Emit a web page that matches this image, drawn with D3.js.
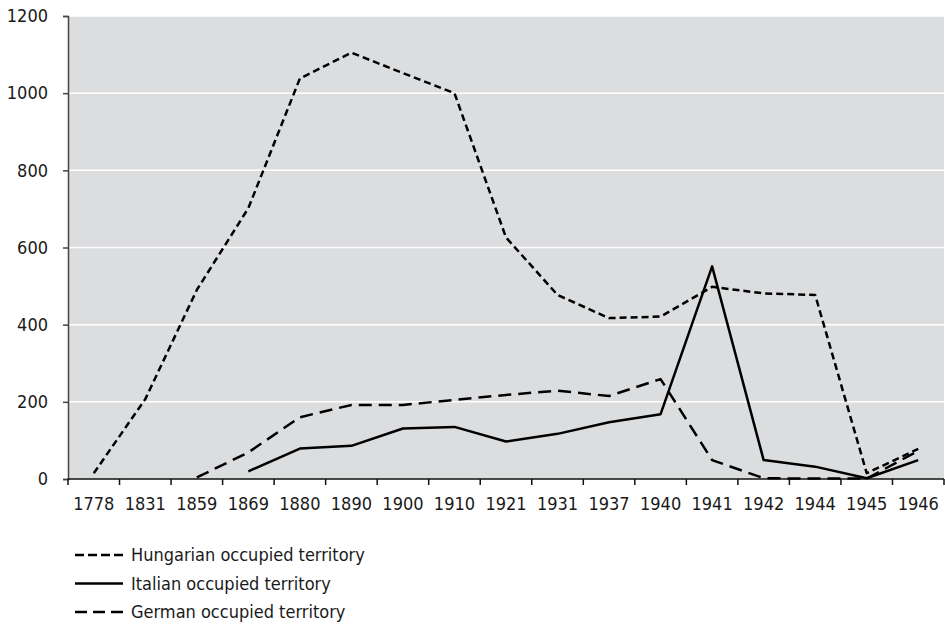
<!DOCTYPE html>
<html>
<head>
<meta charset="utf-8">
<script src="https://cdn.jsdelivr.net/npm/d3@7"></script>
<style>
  html, body { margin: 0; padding: 0; background: #fff; }
  svg { display: block; }
  text { font-family: "DejaVu Sans Condensed", "DejaVu Sans", sans-serif; font-stretch: condensed; fill: #1a1a1a; }
</style>
</head>
<body>
<svg id="chart" width="945" height="626"></svg>
<script>
const years = ['1778', '1831', '1859', '1869', '1880', '1890', '1900', '1910', '1921', '1931', '1937', '1940', '1941', '1942', '1944', '1945', '1946'];

// null = no value for that year
const hungarian = [15, 207, 490, 702, 1038, 1105, 1052, 1000, 626, 477, 417, 421, 498, 481, 477, 15, 78];
const italian = [null, null, null, 20, 79, 86, 131, 135, 97, 117, 147, 168, 551, 49, 32, 2, 49];
const german = [null, null, 4, 69, 160, 192, 192, 205, 218, 229, 215, 259, 49, 2, 1, 1, 73];

const yTicks = [0, 200, 400, 600, 800, 1000, 1200];

const series = [
  { name: 'Hungarian occupied territory', values: hungarian, dash: '7,4', legendDash: '9,4' },
  { name: 'Italian occupied territory', values: italian, dash: null, legendDash: null },
  { name: 'German occupied territory', values: german, dash: '13,7', legendDash: '12,6' }
];

const margin = { top: 16, right: 1, bottom: 147, left: 68 };
const width = 945;
const height = 626;

const svg = d3.select('#chart');

const x = d3.scaleBand()
  .domain(years)
  .range([margin.left, width - margin.right])
  .paddingInner(0).paddingOuter(0);

const y = d3.scaleLinear()
  .domain([0, 1200])
  .range([height - margin.bottom, margin.top]);

// plot background
svg.append('rect')
  .attr('x', margin.left)
  .attr('y', margin.top)
  .attr('width', width - margin.right - margin.left)
  .attr('height', y(0) - margin.top)
  .attr('fill', '#dcdddf');

// gridlines
svg.append('g')
  .selectAll('line')
  .data(yTicks.filter(d => d > 0))
  .join('line')
  .attr('x1', margin.left)
  .attr('x2', width - margin.right)
  .attr('y1', d => y(d))
  .attr('y2', d => y(d))
  .attr('stroke', '#fff')
  .attr('stroke-width', 1.5);

// y axis
const yAxis = g => g
  .attr('transform', `translate(${margin.left},0)`)
  .call(d3.axisLeft(y).tickValues(yTicks).tickSize(5).tickPadding(15).tickFormat(d3.format('d')))
  .call(g => g.select('.domain').attr('stroke', '#444').attr('stroke-width', 1.5))
  .call(g => g.selectAll('.tick line').attr('stroke', '#444').attr('stroke-width', 1.5))
  .call(g => g.selectAll('.tick text')
    .attr('font-size', 18)
    .attr('fill', '#1a1a1a')
    .style('font-family', '"DejaVu Sans Condensed", "DejaVu Sans", sans-serif'));

svg.append('g').call(yAxis);

// x axis, ticks on band boundaries
const xAxis = g => g
  .attr('transform', `translate(0,${y(0)})`)
  .call(g => g.append('line')
    .attr('x1', margin.left).attr('x2', width - margin.right)
    .attr('stroke', '#111').attr('stroke-width', 1.5))
  .call(g => g.selectAll('.bound')
    .data(years.concat(['end']))
    .join('line')
    .attr('class', 'bound')
    .attr('x1', (d, i) => i < years.length ? x(d) : x(years[years.length - 1]) + x.bandwidth())
    .attr('x2', (d, i) => i < years.length ? x(d) : x(years[years.length - 1]) + x.bandwidth())
    .attr('y1', 0).attr('y2', 6)
    .attr('stroke', '#111').attr('stroke-width', 1.5))
  .call(g => g.selectAll('.lbl')
    .data(years)
    .join('text')
    .attr('class', 'lbl')
    .attr('x', d => x(d) + x.bandwidth() / 2)
    .attr('y', 31)
    .attr('text-anchor', 'middle')
    .attr('font-size', 18)
    .text(d => d));

svg.append('g').call(xAxis);

// lines
const line = d3.line()
  .defined(d => d.value != null)
  .x(d => x(d.year) + x.bandwidth() / 2)
  .y(d => y(d.value));

series.forEach(s => {
  const data = years.map((year, i) => ({ year, value: s.values[i] }));
  svg.append('path')
    .datum(data)
    .attr('fill', 'none')
    .attr('stroke', '#000')
    .attr('stroke-width', 2.5)
    .attr('stroke-linejoin', 'round')
    .attr('stroke-dasharray', s.dash)
    .attr('d', line);
});

// legend
const legend = svg.append('g').attr('transform', 'translate(75,555)');
series.forEach((s, i) => {
  const row = legend.append('g').attr('transform', `translate(0,${i * 28.5})`);
  row.append('line')
    .attr('x1', 0).attr('x2', 48)
    .attr('stroke', '#000')
    .attr('stroke-width', 2.5)
    .attr('stroke-dasharray', s.legendDash);
  row.append('text')
    .attr('x', 56)
    .attr('y', 6)
    .attr('font-size', 18)
    .text(s.name);
});
</script>
</body>
</html>
